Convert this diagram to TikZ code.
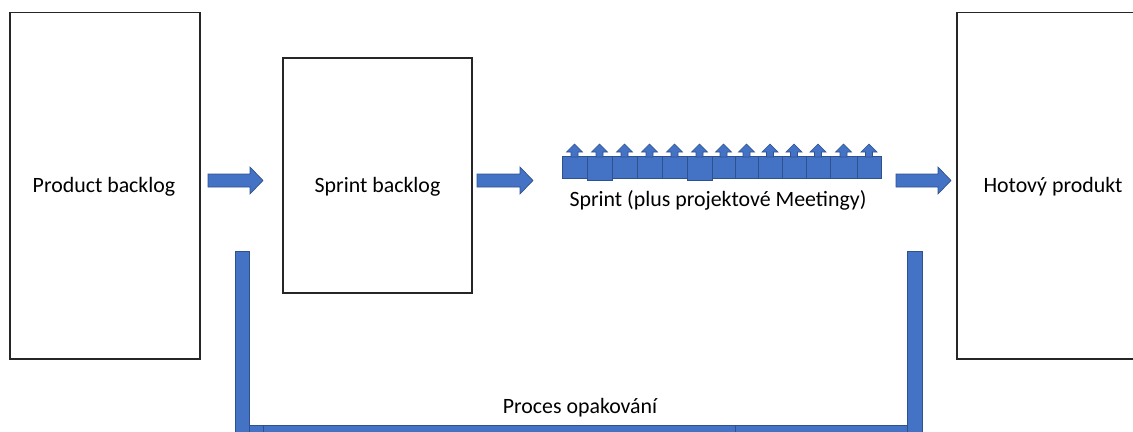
\documentclass[tikz,border=0pt]{standalone}
\usepackage{fontspec}
\setmainfont{Carlito}
\definecolor{offblue}{HTML}{4472C4}
\definecolor{offedge}{HTML}{2F528F}
\begin{document}
\begin{tikzpicture}[x=0.75pt,y=-0.75pt,
  boxframe/.style={draw=black!85,line width=0.8pt,fill=white},
  label/.style={font=\fontsize{16.4}{19}\selectfont,inner sep=0pt},
  blue/.style={fill=offblue,draw=offedge,line width=0.5pt},
  bigarrow/.pic={\path[blue] (0,-6.5) -- (#1,-6.5) -- (#1,-13.5) -- (#1+13,0) -- (#1,13.5) -- (#1,6.5) -- (0,6.5) -- cycle;},
  tinyup/.pic={\path[blue] (-3.5,13) -- (-3.5,8) -- (-8,8) -- (0,0) -- (8,8) -- (3.5,8) -- (3.5,13) -- cycle;}
]
\useasboundingbox (0,0) rectangle (1133,432);
\begin{scope}
\clip (0,0) rectangle (1133,432);
% boxes
\draw[boxframe] (10,12.5) rectangle (200,359);
\draw[boxframe] (283,58) rectangle (472,293);
\draw[boxframe] (957,12.5) rectangle (1147,359);
\node[label] (pb) at (104,187) {Product backlog};
\node[label] (sb) at (377.5,187) {Sprint backlog};
\node[label] (hp) at (1053,187) {Hotový produkt};
% big arrows
\pic at (208,180.5) {bigarrow=42};
\pic at (477,180.5) {bigarrow=43};
\pic at (896,180.5) {bigarrow=42};
% sprint blocks
\foreach \a/\b/\lo in {562/587/178,587/612/180,612/637/178,637/662/178,662/687/178,687/712/180,712/735/178,735/758/178,758/782/178,782/806/178,806/830/178,830/857/178,857/881/178}{
  \path[blue] (\a,156) rectangle (\b,\lo);
  \pic at ({(\a+\b)/2},144) {tinyup};
}
\node[label] (sp) at (718,200) {Sprint (plus projektové Meetingy)};
% repeat loop
\path[blue] (235,251) rectangle (249,440);
\path[blue] (907,251) rectangle (922,440);
\path[blue] (249,425) rectangle (263,440);
\path[blue] (263,425) rectangle (735,440);
\path[blue] (735,425) rectangle (907,440);
\coordinate (loopl) at (242,251);
\coordinate (loopr) at (914.5,251);
\node[label] (po) at (580,408) {Proces opakování};
\end{scope}
\end{tikzpicture}
\end{document}
